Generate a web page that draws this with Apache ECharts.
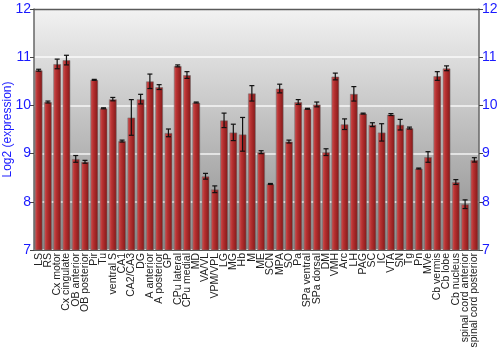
<!DOCTYPE html>
<html><head><meta charset="utf-8">
<script src="https://cdn.jsdelivr.net/npm/echarts@6/dist/echarts.min.js"></script>
<style>html,body{margin:0;padding:0;background:#fff}#c{width:500px;height:350px}</style>
</head><body><div id="c"></div>
<script>
const categories = ["LS","RS","Cx motor","Cx cingulate","OB anterior","OB posterior","Pir","Tu","ventral S","CA1","CA2/CA3","DG","A anterior","A posterior","GP","CPu lateral","CPu medial","MD","VA/VL","VPM/VPL","LG","MG","Hb","M","ME","SCN","MPA","SO","Pa","SPa ventral","SPa dorsal","DM","VMH","Arc","LH","PAG","SC","IC","VTA","SN","Tg","Pn","MVe","Cb vermis","Cb lobe","Cb nucleus","spinal cord anterior","spinal cord posterior"];
const values = [10.73,10.07,10.86,10.94,8.89,8.83,10.53,9.94,10.13,9.26,9.75,10.13,10.5,10.38,9.43,10.82,10.63,10.06,8.53,8.26,9.69,9.44,9.4,10.25,9.03,8.37,10.35,9.25,10.07,9.93,10.02,9.03,10.6,9.61,10.24,9.83,9.6,9.44,9.81,9.6,9.53,8.69,8.93,10.61,10.77,8.41,7.95,8.87];
const errors = [0.02,0.02,0.1,0.1,0.07,0.03,0.01,0.01,0.035,0.02,0.37,0.1,0.15,0.05,0.08,0.02,0.07,0.01,0.06,0.07,0.15,0.17,0.35,0.16,0.03,0.01,0.09,0.03,0.05,0.01,0.05,0.07,0.07,0.11,0.15,0.01,0.04,0.18,0.02,0.11,0.02,0.01,0.11,0.09,0.05,0.05,0.09,0.045];
const yTicks = [7,8,9,10,11,12];

const chart = echarts.init(document.getElementById('c'));
const font = "'Liberation Sans', Arial, sans-serif";
const errData = values.map((v,i)=>[i, v, errors[i]]);
chart.setOption({
  animation:false,
  backgroundColor:'#ffffff',
  grid:{left:34, right:21, top:9, bottom:100, show:true, borderWidth:0, containLabel:false, outerBoundsMode:'none',
    backgroundColor:new echarts.graphic.LinearGradient(0,0,0,1,[{offset:0,color:'#f2f2f2'},{offset:1,color:'#8a8a8a'}])},
  xAxis:{type:'category', data:categories,
    axisLine:{show:true, lineStyle:{color:'#555', width:1}},
    axisTick:{show:false},
    axisLabel:{interval:0, rotate:90, fontSize:10.5, fontFamily:font, color:'#222', margin:3}},
  yAxis:[
    {type:'value', min:yTicks[0], max:yTicks[yTicks.length-1], interval:1,
     name:'Log2 (expression)', nameLocation:'middle', nameGap:20, nameRotate:90, nameMoveOverlap:false,
     nameTextStyle:{color:'#1a1aff', fontSize:12, fontFamily:font},
     axisLine:{show:true, lineStyle:{color:'#666', width:1.5}},
     axisTick:{show:true, length:4, lineStyle:{color:'#444'}},
     axisLabel:{color:'#1a1aff', fontSize:14, fontFamily:font, margin:3},
     splitLine:{show:true, lineStyle:{color:'#ffffff', width:1.5, opacity:0.85}}},
    {type:'value', min:yTicks[0], max:yTicks[yTicks.length-1], interval:1, position:'right',
     axisLine:{show:true, lineStyle:{color:'#666', width:1.5}},
     axisTick:{show:true, length:4, lineStyle:{color:'#444'}},
     axisLabel:{color:'#1a1aff', fontSize:14, fontFamily:font, margin:3},
     splitLine:{show:false}}
  ],
  graphic:[{type:'line', shape:{x1:34,y1:9.5,x2:479,y2:9.5}, style:{stroke:'#5a5a5a', lineWidth:1.5}, z:10}],
  series:[
    {type:'bar', data:values, barWidth:'86%',
     itemStyle:{color:new echarts.graphic.LinearGradient(0,0,1,0,[{offset:0,color:'#d45a5a'},{offset:0.35,color:'#b83232'},{offset:1,color:'#801616'}]),
       borderColor:'rgba(110,110,110,0.55)', borderWidth:1}},
    {type:'custom', data:errData, z:5,
     renderItem:function(params, api){
       const x = api.value(0), v = api.value(1), e = api.value(2);
       const top = api.coord([x, v+e]), bot = api.coord([x, v-e]);
       const w = 2.5;
       const st = {stroke:'#111', lineWidth:1.2};
       return {type:'group', children:[
         {type:'line', shape:{x1:top[0],y1:top[1],x2:bot[0],y2:bot[1]}, style:st},
         {type:'line', shape:{x1:top[0]-w,y1:top[1],x2:top[0]+w,y2:top[1]}, style:st},
         {type:'line', shape:{x1:bot[0]-w,y1:bot[1],x2:bot[0]+w,y2:bot[1]}, style:st}
       ]};
     }}
  ]
});
</script></body></html>
